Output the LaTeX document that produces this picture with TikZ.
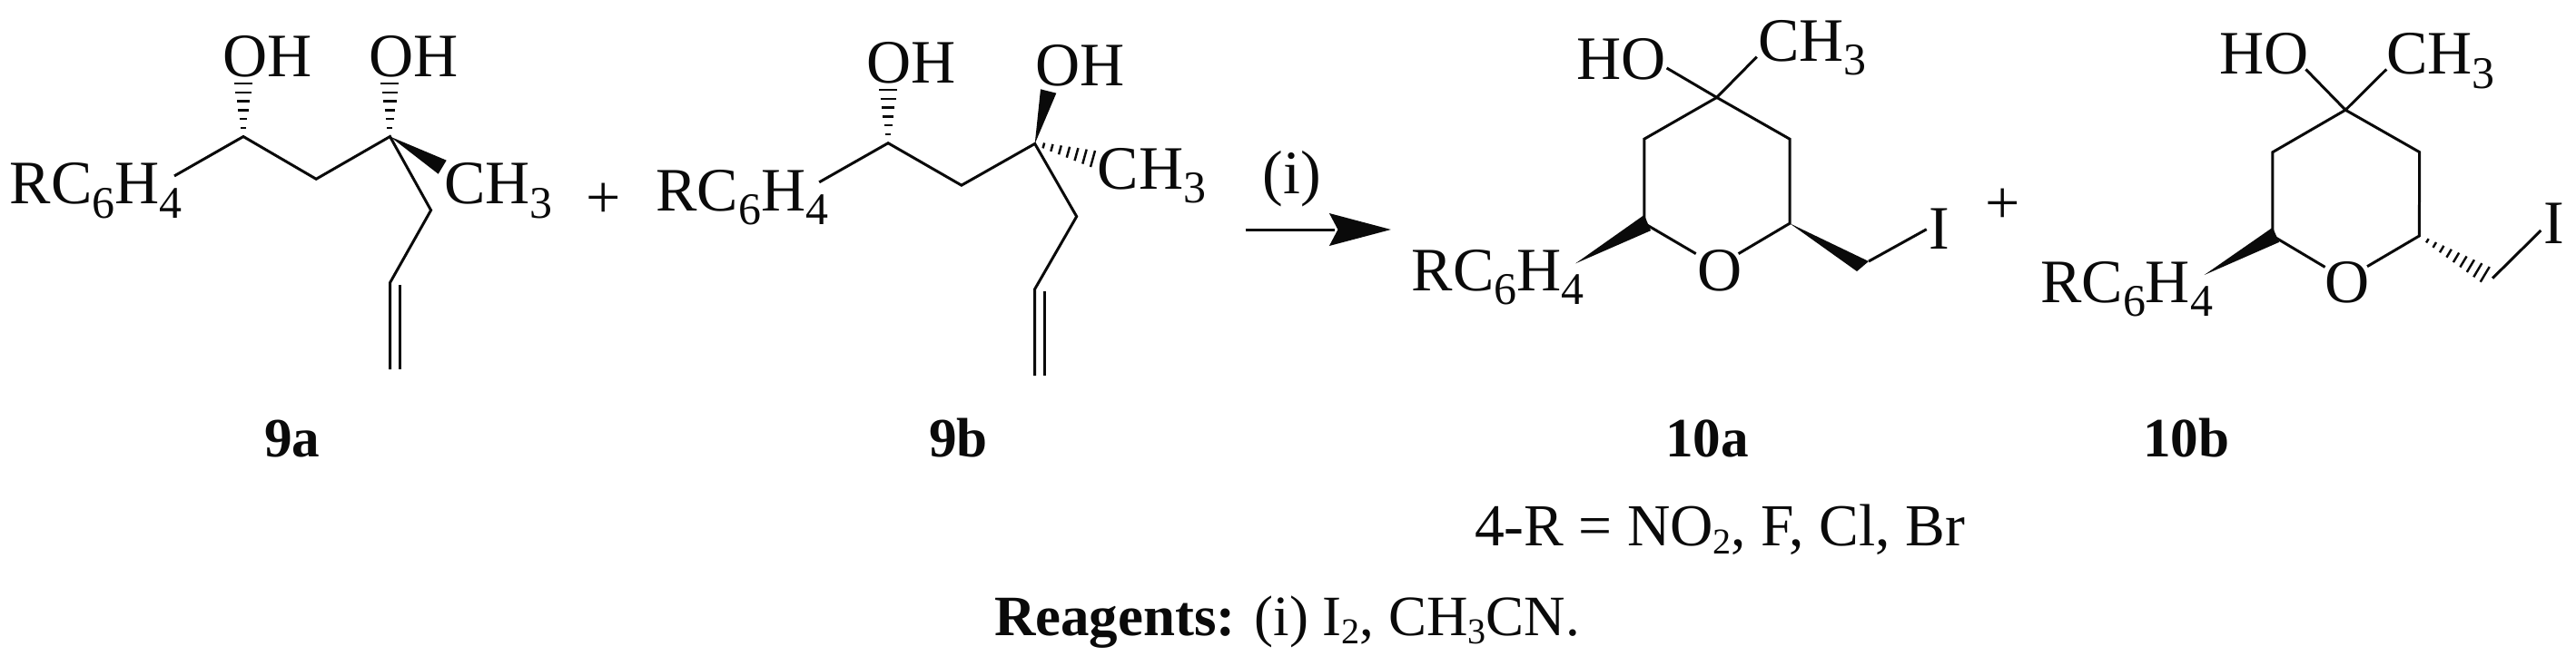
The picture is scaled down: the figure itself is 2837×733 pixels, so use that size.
\documentclass[tikz,border=0pt]{standalone}
\usepackage{fontspec}
\setmainfont{Liberation Serif}
\usetikzlibrary{calc}
\definecolor{ink}{HTML}{0A0A0A}
\newcommand{\sbb}[1]{\raisebox{-0.155cm}{\fontsize{14.2pt}{16pt}\selectfont #1}}
\newcommand{\sbl}[1]{\raisebox{-0.09cm}{\fontsize{11.4pt}{13pt}\selectfont #1}}
\newcommand{\hashbond}[5]{%
	\foreach \k in {1,...,#5}{
		\pgfmathsetmacro{\hh}{#4+(1-#4)*(\k-1)/(#5-1)}
		\draw[hashline] ($(#1)!\hh!(#2)$) -- ($(#1)!\hh!(#3)$);
	}
}
\tikzset{
	bond/.style={ink,line width=0.85pt,line join=miter},
	hashline/.style={ink,line width=0.7pt},
	lab/.style={anchor=base west,inner sep=0pt,outer sep=0pt,text=ink,font=\fontsize{19.35pt}{22pt}\selectfont},
	cpd/.style={lab,font=\fontsize{17.4pt}{20pt}\selectfont\bfseries},
	foot/.style={lab,font=\fontsize{17.9pt}{20pt}\selectfont},
	footwide/.style={lab,font=\fontsize{18.65pt}{20pt}\selectfont},
}
\begin{document}
\begin{tikzpicture}[x=0.01cm,y=-0.01cm]
	\useasboundingbox (0,0) rectangle (2837,733);
	\fill[white] (0,0) rectangle (2837,733);
	%9a
	\node[lab] (arA) at (11,224.5) {RC\sbb{6}H\sbb{4}};
	\node[lab] (ohAa) at (245,84.8) {OH};
	\node[lab] (ohAb) at (406,84.8) {OH};
	\node[lab] (meA) at (489,224.5) {CH\sbb{3}};
	\node[lab] (plusA) at (645,240) {+};
	\node[cpd] (nameA) at (291,503) {9a};
	\coordinate (a0) at (192,193.9);
	\coordinate (a1) at (268,150.5);
	\coordinate (a2) at (348.2,197.3);
	\coordinate (a3) at (429.5,150.5);
	\coordinate (a4) at (474.6,231.7);
	\coordinate (a5) at (429.5,311.6);
	\coordinate (a6) at (429.5,407);
	\coordinate (a7) at (440.2,314);
	\coordinate (a8) at (440.2,407);
	\draw[bond] (a0) -- (a1) -- (a2) -- (a3) -- (a4) -- (a5) -- (a6);
	\draw[bond] (a7) -- (a8);
	\fill[ink] (a3) -- (491.7,176.7) -- (482.7,191.7) -- cycle;
	\hashbond{268,162}{258,92}{278,92}{0.3}{6}
	\hashbond{429.3,162}{419.3,92}{439.3,92}{0.3}{6}
	%9b
	\node[lab] (arB) at (722.3,232.4) {RC\sbb{6}H\sbb{4}};
	\node[lab] (ohBa) at (954.5,91.3) {OH};
	\node[lab] (ohBb) at (1140.6,94.7) {OH};
	\node[lab] (meB) at (1208.9,208.3) {CH\sbb{3}};
	\node[cpd] (nameB) at (1023,503) {9b};
	\coordinate (b0) at (902.2,200.8);
	\coordinate (b1) at (978.1,157.7);
	\coordinate (b2) at (1058.9,204.2);
	\coordinate (b3) at (1139.7,158.4);
	\coordinate (b4) at (1185.7,238.6);
	\coordinate (b5) at (1139.7,318.5);
	\coordinate (b6) at (1139.7,414);
	\coordinate (b7) at (1150.9,321);
	\coordinate (b8) at (1150.9,414);
	\draw[bond] (b0) -- (b1) -- (b2) -- (b3) -- (b4) -- (b5) -- (b6);
	\draw[bond] (b7) -- (b8);
	\fill[ink] (b3) -- (1146,98.3) -- (1163.3,102.7) -- cycle;
	\hashbond{978.1,169}{968.1,99}{988.1,99}{0.3}{6}
	\hashbond{1123.3,153.4}{1206,166}{1201,184}{0.325}{7}
	%arrow
	\node[lab] (stepi) at (1390.7,213.5) {(i)};
	\coordinate (arrS) at (1371.5,253);
	\coordinate (arrE) at (1531.8,253);
	\draw[bond] (arrS) -- (1470,253);
	\fill[ink] (arrE) -- (1463.9,235) -- (1473.4,253) -- (1463.9,271) -- cycle;
	%10a
	\node[lab] (arC) at (1554.8,320.2) {RC\sbb{6}H\sbb{4}};
	\node[lab] (hoC) at (1736.6,87.8) {HO};
	\node[lab] (meC) at (1936,67.1) {CH\sbb{3}};
	\node[lab] (oxC) at (1869,320.2) {O};
	\node[lab] (iC) at (2124,274) {I};
	\node[cpd] (nameC) at (1834,503) {10a};
	\coordinate (c0) at (1890.7,107.4);
	\coordinate (c1) at (1835.6,75);
	\coordinate (c2) at (1934.7,62.7);
	\coordinate (c3) at (1810.8,153.2);
	\coordinate (c4) at (1971,153.2);
	\coordinate (c5) at (1810.8,246.2);
	\coordinate (c6) at (1971,246.2);
	\coordinate (c7) at (1867.7,279.6);
	\coordinate (c8) at (1914.6,279.6);
	\coordinate (c9) at (2058,288);
	\coordinate (c10) at (2121.7,252.7);
	\draw[bond] (c7) -- (c5) -- (c3) -- (c0) -- (c4) -- (c6) -- (c8);
	\draw[bond] (c1) -- (c0) -- (c2);
	\draw[bond] (c9) -- (c10);
	\fill[ink] (1735.2,290.3) -- (1810.8,236.9) -- (1818,254.1) -- cycle;
	\fill[ink] (c6) -- (c9) -- (2045,299) -- cycle;
	\node[lab] (plusC) at (2186,246) {+};
	%10b
	\node[lab] (arD) at (2247.2,333.3) {RC\sbb{6}H\sbb{4}};
	\node[lab] (hoD) at (2444.2,81.6) {HO};
	\node[lab] (meD) at (2628.2,81.6) {CH\sbb{3}};
	\node[lab] (oxD) at (2560.6,333.3) {O};
	\node[lab] (iD) at (2801.8,268) {I};
	\node[cpd] (nameD) at (2360,503) {10b};
	\coordinate (d0) at (2583.1,121.2);
	\coordinate (d1) at (2539.4,76.4);
	\coordinate (d2) at (2628.2,76.4);
	\coordinate (d3) at (2502.9,167.7);
	\coordinate (d4) at (2664.7,167.7);
	\coordinate (d5) at (2502.9,260);
	\coordinate (d6) at (2664.3,260);
	\coordinate (d7) at (2560.6,294.4);
	\coordinate (d8) at (2607,293.7);
	\coordinate (d9) at (2745,306.7);
	\coordinate (d10) at (2798.3,254);
	\draw[bond] (d7) -- (d5) -- (d3) -- (d0) -- (d4) -- (d6) -- (d8);
	\draw[bond] (d1) -- (d0) -- (d2);
	\draw[bond] (d9) -- (d10);
	\fill[ink] (2427.6,303) -- (2502.9,250.7) -- (2510,266.9) -- cycle;
	\hashbond{2651.3,252.4}{2741.7,294}{2731.7,310.7}{0.258}{9}
	%bottom lines
	\node[footwide] (rgroup) at (1624,601.7) {4-R = NO\sbl{2}, F, Cl, Br};
	\node[foot] (reagents) at (1095,700.7) {\textbf{Reagents:} (i) I\sbl{2}, CH\sbl{3}CN.};
\end{tikzpicture}
\end{document}
